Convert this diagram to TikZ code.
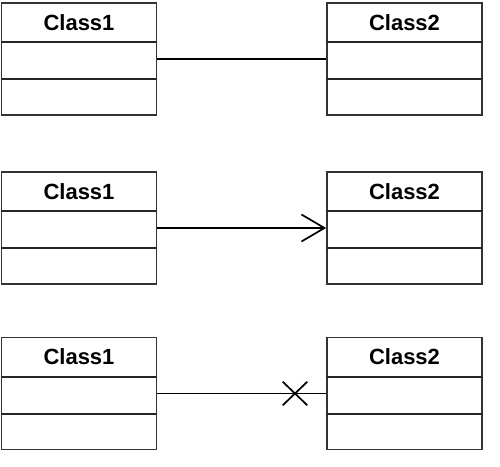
\documentclass[tikz,border=0pt]{standalone}
\usepackage{fontspec}
\setmainfont{Liberation Sans}
\usetikzlibrary{arrows.meta,shapes.misc}
\newcommand{\clsw}{155pt}
\newcommand{\clsh}{112pt}

\begin{document}
\begin{tikzpicture}[x=1pt,y=-1pt,line width=1.7pt]
	\useasboundingbox[fill=white] (0,0) rectangle (500,466);
	\begin{scope}[shape=rectangle]
		\tikzstyle{every node}=[draw=black!80,minimum width=\clsw,minimum height=\clsh,inner sep=0pt]
		\node (L_1) at (79,59) {};
		\node (R_1) at (404.5,59) {};
		\node (L_2) at (79,228) {};
		\node (R_2) at (404.5,228) {};
		\node (L_3) at (79,393.5) {};
		\node (R_3) at (404.5,393.5) {};
	\end{scope}
	% compartments and class names
	\foreach \n/\t in {L_1/Class1,R_1/Class2,L_2/Class1,R_2/Class2,L_3/Class1,R_3/Class2} {
		\draw[black!85] ([yshift=-40pt]\n.north west) -- ([yshift=-40pt]\n.north east);
		\draw[black!85] ([yshift=-77pt]\n.north west) -- ([yshift=-77pt]\n.north east);
		\node[font=\bfseries\fontsize{22}{26}\selectfont] (T_\n) at ([yshift=-20pt]\n.north) {\t};
	}
	\draw [-] (L_1) -- (R_1);
	\draw [-{Straight Barb[length=23pt,width=27pt]}] (L_2) -- (R_2);
	\draw [-] (L_3) -- (R_3);
	\node[draw,cross out,minimum width=23pt,minimum height=22pt,inner sep=0pt] (X_3) at (295,393.5) {};
\end{tikzpicture}
\end{document}
